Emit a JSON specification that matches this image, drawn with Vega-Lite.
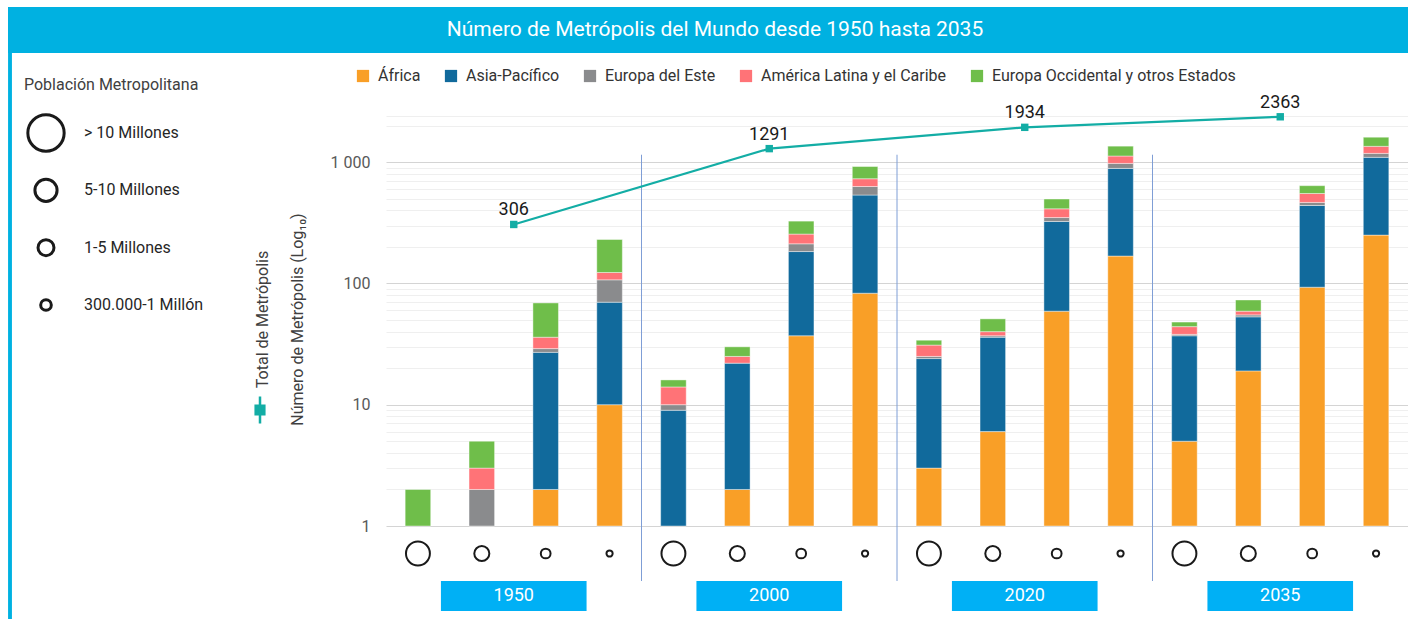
{
  "$schema": "https://vega.github.io/schema/vega-lite/v6.json",
  "background": "white",
  "padding": {"left": 8, "top": 7, "right": 0, "bottom": 0},
  "bounds": "flush",
  "spacing": 0,
  "config": {"view": {"stroke": null}, "font": "Roboto"},
  "datasets": {
    "bars": [
      {"year": "1950", "size": "> 10 Millones", "region": "Europa Occidental y otros Estados", "n": 2},
      {"year": "1950", "size": "5-10 Millones", "region": "Europa del Este", "n": 2},
      {"year": "1950", "size": "5-10 Millones", "region": "América Latina y el Caribe", "n": 1},
      {"year": "1950", "size": "5-10 Millones", "region": "Europa Occidental y otros Estados", "n": 2},
      {"year": "1950", "size": "1-5 Millones", "region": "África", "n": 2},
      {"year": "1950", "size": "1-5 Millones", "region": "Asia-Pacífico", "n": 25},
      {"year": "1950", "size": "1-5 Millones", "region": "Europa del Este", "n": 2},
      {"year": "1950", "size": "1-5 Millones", "region": "América Latina y el Caribe", "n": 7},
      {"year": "1950", "size": "1-5 Millones", "region": "Europa Occidental y otros Estados", "n": 33},
      {"year": "1950", "size": "300.000-1 Millón", "region": "África", "n": 10},
      {"year": "1950", "size": "300.000-1 Millón", "region": "Asia-Pacífico", "n": 60},
      {"year": "1950", "size": "300.000-1 Millón", "region": "Europa del Este", "n": 37},
      {"year": "1950", "size": "300.000-1 Millón", "region": "América Latina y el Caribe", "n": 16},
      {"year": "1950", "size": "300.000-1 Millón", "region": "Europa Occidental y otros Estados", "n": 107},
      {"year": "2000", "size": "> 10 Millones", "region": "Asia-Pacífico", "n": 9},
      {"year": "2000", "size": "> 10 Millones", "region": "Europa del Este", "n": 1},
      {"year": "2000", "size": "> 10 Millones", "region": "América Latina y el Caribe", "n": 4},
      {"year": "2000", "size": "> 10 Millones", "region": "Europa Occidental y otros Estados", "n": 2},
      {"year": "2000", "size": "5-10 Millones", "region": "África", "n": 2},
      {"year": "2000", "size": "5-10 Millones", "region": "Asia-Pacífico", "n": 20},
      {"year": "2000", "size": "5-10 Millones", "region": "América Latina y el Caribe", "n": 3},
      {"year": "2000", "size": "5-10 Millones", "region": "Europa Occidental y otros Estados", "n": 5},
      {"year": "2000", "size": "1-5 Millones", "region": "África", "n": 37},
      {"year": "2000", "size": "1-5 Millones", "region": "Asia-Pacífico", "n": 146},
      {"year": "2000", "size": "1-5 Millones", "region": "Europa del Este", "n": 29},
      {"year": "2000", "size": "1-5 Millones", "region": "América Latina y el Caribe", "n": 43},
      {"year": "2000", "size": "1-5 Millones", "region": "Europa Occidental y otros Estados", "n": 71},
      {"year": "2000", "size": "300.000-1 Millón", "region": "África", "n": 83},
      {"year": "2000", "size": "300.000-1 Millón", "region": "Asia-Pacífico", "n": 452},
      {"year": "2000", "size": "300.000-1 Millón", "region": "Europa del Este", "n": 94},
      {"year": "2000", "size": "300.000-1 Millón", "region": "América Latina y el Caribe", "n": 100},
      {"year": "2000", "size": "300.000-1 Millón", "region": "Europa Occidental y otros Estados", "n": 190},
      {"year": "2020", "size": "> 10 Millones", "region": "África", "n": 3},
      {"year": "2020", "size": "> 10 Millones", "region": "Asia-Pacífico", "n": 21},
      {"year": "2020", "size": "> 10 Millones", "region": "Europa del Este", "n": 1},
      {"year": "2020", "size": "> 10 Millones", "region": "América Latina y el Caribe", "n": 6},
      {"year": "2020", "size": "> 10 Millones", "region": "Europa Occidental y otros Estados", "n": 3},
      {"year": "2020", "size": "5-10 Millones", "region": "África", "n": 6},
      {"year": "2020", "size": "5-10 Millones", "region": "Asia-Pacífico", "n": 30},
      {"year": "2020", "size": "5-10 Millones", "region": "Europa del Este", "n": 1},
      {"year": "2020", "size": "5-10 Millones", "region": "América Latina y el Caribe", "n": 3},
      {"year": "2020", "size": "5-10 Millones", "region": "Europa Occidental y otros Estados", "n": 11},
      {"year": "2020", "size": "1-5 Millones", "region": "África", "n": 59},
      {"year": "2020", "size": "1-5 Millones", "region": "Asia-Pacífico", "n": 265},
      {"year": "2020", "size": "1-5 Millones", "region": "Europa del Este", "n": 25},
      {"year": "2020", "size": "1-5 Millones", "region": "América Latina y el Caribe", "n": 63},
      {"year": "2020", "size": "1-5 Millones", "region": "Europa Occidental y otros Estados", "n": 84},
      {"year": "2020", "size": "300.000-1 Millón", "region": "África", "n": 168},
      {"year": "2020", "size": "300.000-1 Millón", "region": "Asia-Pacífico", "n": 719},
      {"year": "2020", "size": "300.000-1 Millón", "region": "Europa del Este", "n": 88},
      {"year": "2020", "size": "300.000-1 Millón", "region": "América Latina y el Caribe", "n": 147},
      {"year": "2020", "size": "300.000-1 Millón", "region": "Europa Occidental y otros Estados", "n": 231},
      {"year": "2035", "size": "> 10 Millones", "region": "África", "n": 5},
      {"year": "2035", "size": "> 10 Millones", "region": "Asia-Pacífico", "n": 32},
      {"year": "2035", "size": "> 10 Millones", "region": "Europa del Este", "n": 1},
      {"year": "2035", "size": "> 10 Millones", "region": "América Latina y el Caribe", "n": 6},
      {"year": "2035", "size": "> 10 Millones", "region": "Europa Occidental y otros Estados", "n": 4},
      {"year": "2035", "size": "5-10 Millones", "region": "África", "n": 19},
      {"year": "2035", "size": "5-10 Millones", "region": "Asia-Pacífico", "n": 34},
      {"year": "2035", "size": "5-10 Millones", "region": "Europa del Este", "n": 2},
      {"year": "2035", "size": "5-10 Millones", "region": "América Latina y el Caribe", "n": 4},
      {"year": "2035", "size": "5-10 Millones", "region": "Europa Occidental y otros Estados", "n": 14},
      {"year": "2035", "size": "1-5 Millones", "region": "África", "n": 93},
      {"year": "2035", "size": "1-5 Millones", "region": "Asia-Pacífico", "n": 346},
      {"year": "2035", "size": "1-5 Millones", "region": "Europa del Este", "n": 26},
      {"year": "2035", "size": "1-5 Millones", "region": "América Latina y el Caribe", "n": 86},
      {"year": "2035", "size": "1-5 Millones", "region": "Europa Occidental y otros Estados", "n": 88},
      {"year": "2035", "size": "300.000-1 Millón", "region": "África", "n": 250},
      {"year": "2035", "size": "300.000-1 Millón", "region": "Asia-Pacífico", "n": 844},
      {"year": "2035", "size": "300.000-1 Millón", "region": "Europa del Este", "n": 86},
      {"year": "2035", "size": "300.000-1 Millón", "region": "América Latina y el Caribe", "n": 169},
      {"year": "2035", "size": "300.000-1 Millón", "region": "Europa Occidental y otros Estados", "n": 254}
    ],
    "regions": [
      {"region": "África", "k": 1},
      {"region": "Asia-Pacífico", "k": 2},
      {"region": "Europa del Este", "k": 3},
      {"region": "América Latina y el Caribe", "k": 4},
      {"region": "Europa Occidental y otros Estados", "k": 5}
    ],
    "totals": [
      {"year": "1950", "total": 306},
      {"year": "2000", "total": 1291},
      {"year": "2020", "total": 1934},
      {"year": "2035", "total": 2363}
    ],
    "sizes": [
      {"size": "> 10 Millones"},
      {"size": "5-10 Millones"},
      {"size": "1-5 Millones"},
      {"size": "300.000-1 Millón"}
    ]
  },
  "vconcat": [
    {
      "width": 1400,
      "height": 46,
      "view": {"fill": "#00B1E1", "stroke": null},
      "data": {"values": [{"t": "Número de Metrópolis del Mundo desde 1950 hasta 2035"}]},
      "mark": {"type": "text", "color": "white", "fontSize": 21, "font": "Roboto", "dx": 7},
      "encoding": {"text": {"field": "t", "type": "nominal"}}
    },
    {
      "bounds": "flush",
      "spacing": 302,
      "resolve": {"scale": {"size": "independent"}, "legend": {"size": "independent"}},
      "hconcat": [
        {
          "width": 76,
          "height": 566,
          "data": {"name": "sizes"},
          "title": {"text": "Población Metropolitana", "anchor": "start", "frame": "group", "orient": "top", "offset": -54, "dx": 16, "fontSize": 16, "fontWeight": "normal", "color": "#404040", "font": "Roboto", "baseline": "alphabetic"},
          "encoding": {
            "y": {"field": "size", "type": "nominal", "sort": null,
              "scale": {"domain": ["> 10 Millones", "5-10 Millones", "1-5 Millones", "300.000-1 Millón"], "range": [80, 252], "padding": 0},
              "axis": null}
          },
          "layer": [
            {
              "mark": {"type": "point", "shape": "circle", "filled": false, "stroke": "#1a1a1a", "strokeWidth": 3, "opacity": 1},
              "encoding": {"size": {"field": "size", "type": "ordinal", "scale": {"type": "ordinal", "domain": ["> 10 Millones", "5-10 Millones", "1-5 Millones", "300.000-1 Millón"], "range": [1320, 491, 254, 113]}, "legend": null}}
            },
            {
              "mark": {"type": "text", "align": "left", "dx": 38, "fontSize": 16, "color": "#262626", "font": "Roboto"},
              "encoding": {"text": {"field": "size", "type": "nominal"}}
            },
            {
              "data": {"name": "sizes"},
              "mark": {"type": "rule", "color": "#00B1E1", "strokeWidth": 3, "xOffset": 2},
              "encoding": {"x": {"datum": 0, "type": "quantitative", "scale": {"domain": [0, 1]}, "axis": null}, "y": null}
            }
          ]
        },
        {
          "bounds": "flush",
          "spacing": 0,
          "vconcat": [
            {
              "width": 1022,
              "height": 473,
              "layer": [
                {
                  "data": {"name": "bars"},
                  "transform": [{"lookup": "region", "from": {"data": {"name": "regions"}, "key": "region", "fields": ["k"]}}],
                  "mark": {"type": "bar", "stroke": "#ffffff", "strokeWidth": 0.6, "strokeOpacity": 0.7},
                  "encoding": {
                    "x": {"field": "year", "type": "nominal", "scale": {"paddingInner": 0, "paddingOuter": 0}, "axis": null},
                    "xOffset": {"field": "size", "type": "nominal", "scale": {"domain": ["> 10 Millones", "5-10 Millones", "1-5 Millones", "300.000-1 Millón"], "paddingInner": 0.6, "paddingOuter": 0.3}},
                    "y": {"field": "n", "type": "quantitative", "stack": "zero",
                      "scale": {"type": "log", "domain": [1, 7930], "clamp": true, "nice": false},
                      "axis": {
                        "values": [1,2,3,4,5,6,7,8,9,10,20,30,40,50,60,70,80,90,100,200,300,400,500,600,700,800,900,1000,2000,2400],
                        "labelExpr": "indexof([1,10,100,1000], datum.value) >= 0 ? replace(format(datum.value, ',d'), ',', ' ') : ''",
                        "labelOverlap": false,
                        "gridColor": {"condition": {"test": "indexof([1,10,100,1000], datum.value) >= 0", "value": "#d4d4d4"}, "value": "#efefef"},
                        "gridWidth": 1.2,
                        "ticks": false, "domain": false,
                        "labelPadding": 16, "labelFontSize": 16, "labelColor": "#595959", "labelFont": "Roboto",
                        "title": ["Total de Metrópolis", "Número de Metrópolis (Log₁₀)"],
                        "titleFont": "Roboto", "titleFontSize": 16, "titleFontWeight": "normal", "titleColor": "#404040",
                        "titleLineHeight": 35, "titlePadding": 25, "titleY": 266
                      }},
                    "order": {"field": "k", "type": "quantitative", "sort": "ascending"},
                    "color": {"field": "region", "type": "nominal",
                      "sort": ["África", "Asia-Pacífico", "Europa del Este", "América Latina y el Caribe", "Europa Occidental y otros Estados"],
                      "scale": {"domain": ["África", "Asia-Pacífico", "Europa del Este", "América Latina y el Caribe", "Europa Occidental y otros Estados"], "range": ["#F99F27", "#116A9C", "#8A8B8D", "#FF7377", "#6FBE4A"]},
                      "legend": {"orient": "none", "legendX": 347, "legendY": 61, "direction": "horizontal", "title": null, "symbolType": "square", "symbolSize": 150, "symbolStrokeWidth": 0, "labelFontSize": 16, "labelFont": "Roboto", "labelColor": "#333333", "columnPadding": 22, "labelOffset": 7, "labelLimit": 400}}
                  }
                },
                {
                  "data": {"name": "totals"},
                  "transform": [{"filter": "datum.year != '1950'"}],
                  "mark": {"type": "rule", "color": "#7F9ED6", "strokeWidth": 1},
                  "encoding": {
                    "x": {"field": "year", "type": "nominal", "bandPosition": 0},
                    "y": {"datum": 1150},
                    "y2": {"datum": 1}
                  }
                },
                {
                  "data": {"name": "totals"},
                  "mark": {"type": "line", "strokeWidth": 2.2},
                  "encoding": {
                    "x": {"field": "year", "type": "nominal"},
                    "y": {"field": "total", "type": "quantitative", "scale": {"type": "log", "domain": [1, 7930], "clamp": true, "nice": false}},
                    "stroke": {"datum": "Total de Metrópolis", "type": "nominal", "scale": {"range": ["#13ADA5"]},
                      "legend": {"orient": "none", "legendX": 237, "legendY": 388, "title": null, "labelExpr": "''", "symbolType": "M0,-1V1M-0.32,-0.32H0.32V0.32H-0.32Z", "symbolSize": 729, "symbolStrokeWidth": 2.5, "symbolFillColor": "#13ADA5", "symbolStrokeColor": "#13ADA5"}}
                  }
                },
                {
                  "data": {"name": "totals"},
                  "mark": {"type": "point", "shape": "square", "filled": true, "size": 55, "color": "#13ADA5", "opacity": 1},
                  "encoding": {
                    "x": {"field": "year", "type": "nominal"},
                    "y": {"field": "total", "type": "quantitative", "scale": {"type": "log", "domain": [1, 7930], "clamp": true, "nice": false}}
                  }
                },
                {
                  "data": {"name": "totals"},
                  "mark": {"type": "text", "dy": -14, "fontSize": 18, "color": "#1a1a1a", "font": "Roboto"},
                  "encoding": {
                    "x": {"field": "year", "type": "nominal"},
                    "y": {"field": "total", "type": "quantitative", "scale": {"type": "log", "domain": [1, 7930], "clamp": true, "nice": false}},
                    "text": {"field": "total", "type": "quantitative", "format": "d"}
                  }
                }
              ]
            },
            {
              "width": 1022,
              "height": 55,
              "layer": [
                {
                  "data": {"name": "bars"},
                  "transform": [{"aggregate": [{"op": "count", "as": "k"}], "groupby": ["year", "size"]}],
                  "mark": {"type": "point", "shape": "circle", "filled": false, "stroke": "#1a1a1a", "strokeWidth": 2, "opacity": 1},
                  "encoding": {
                    "x": {"field": "year", "type": "nominal", "scale": {"paddingInner": 0, "paddingOuter": 0}, "axis": null},
                    "xOffset": {"field": "size", "type": "nominal", "scale": {"domain": ["> 10 Millones", "5-10 Millones", "1-5 Millones", "300.000-1 Millón"], "paddingInner": 0.6, "paddingOuter": 0.3}},
                    "size": {"field": "size", "type": "ordinal", "scale": {"type": "ordinal", "domain": ["> 10 Millones", "5-10 Millones", "1-5 Millones", "300.000-1 Millón"], "range": [572, 227, 95, 38]}, "legend": null}
                  }
                },
                {
                  "data": {"name": "totals"},
                  "transform": [{"filter": "datum.year != '1950'"}],
                  "mark": {"type": "rule", "color": "#7F9ED6", "strokeWidth": 1},
                  "encoding": {
                    "x": {"field": "year", "type": "nominal", "bandPosition": 0, "scale": {"paddingInner": 0, "paddingOuter": 0}, "axis": null}
                  }
                }
              ]
            },
            {
              "width": 1022,
              "height": 30,
              "data": {"name": "totals"},
              "encoding": {"x": {"field": "year", "type": "nominal", "scale": {"paddingInner": 0, "paddingOuter": 0}, "axis": null}},
              "layer": [
                {"mark": {"type": "bar", "color": "#00B0F5", "width": {"band": 0.57}}},
                {"mark": {"type": "text", "color": "white", "fontSize": 18, "font": "Roboto"}, "encoding": {"text": {"field": "year", "type": "nominal"}}}
              ]
            }
          ]
        }
      ]
    }
  ]
}
